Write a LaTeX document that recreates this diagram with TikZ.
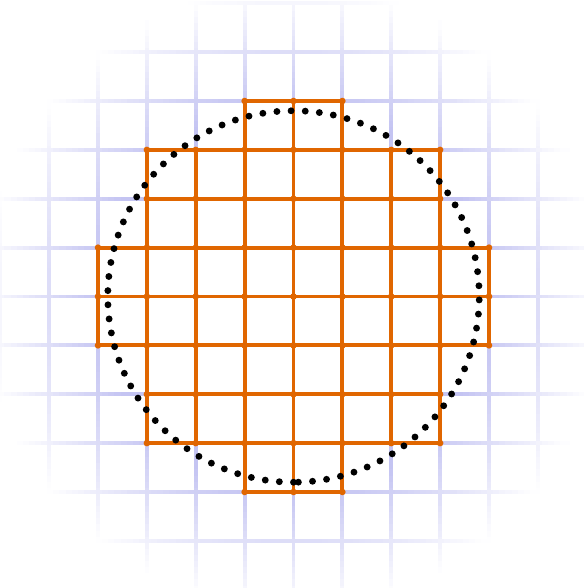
\documentclass[tikz,border=0pt]{standalone}
\definecolor{gridblue}{RGB}{196,196,242}
\definecolor{cellorange}{RGB}{224,102,0}
\tikzset{
  bluegrid/.style={line width=2.2pt, line cap=rect},
  cellgrid/.style={cellorange, line width=2.3pt, line cap=rect},
  celldot/.style={fill=cellorange, draw=none},
  dotcircle/.style={black, line width=4pt, line cap=round, dash pattern=on 0pt off 0.29cm}
}
\begin{document}
\begin{tikzpicture}
\useasboundingbox (-6.005,-5.964) rectangle (5.923,6.066);
% faded background grid
\foreach \i in {-6,...,6}{
  \foreach \j in {-48,...,47}{
    \pgfmathtruncatemacro{\p}{max(0,min(100,(6.4-veclen(\i,(\j+0.5)/8))/2.4*100))}
    \ifnum\p>0
      \draw[bluegrid, color=gridblue!\p!white] (\i,\j/8) -- (\i,\j/8+0.125);
    \fi
  }
}
\foreach \i in {-6,...,6}{
  \foreach \j in {-48,...,47}{
    \pgfmathtruncatemacro{\p}{max(0,min(100,(6.4-veclen(\i,(\j+0.5)/8))/2.4*100))}
    \ifnum\p>0
      \draw[bluegrid, color=gridblue!\p!white] (\j/8,\i) -- (\j/8+0.125,\i);
    \fi
  }
}
% orange cells
\foreach \k/\e in {-4/1, -3/3, -2/3, -1/4, 0/4, 1/4, 2/3, 3/3, 4/1}{
  \draw[cellgrid] (\k,-\e) -- (\k,\e);
  \draw[cellgrid] (-\e,\k) -- (\e,\k);
}
\foreach \k/\e in {-4/1, -3/3, -2/3, -1/4, 0/4, 1/4, 2/3, 3/3, 4/1}{
  \foreach \y in {-\e,...,\e}{
    \fill[celldot] (\k,\y) circle (1.9pt);
  }
}
\draw[dotcircle] (0,-3.8) arc[start angle=270, end angle=-90, radius=3.8];
\end{tikzpicture}
\end{document}
